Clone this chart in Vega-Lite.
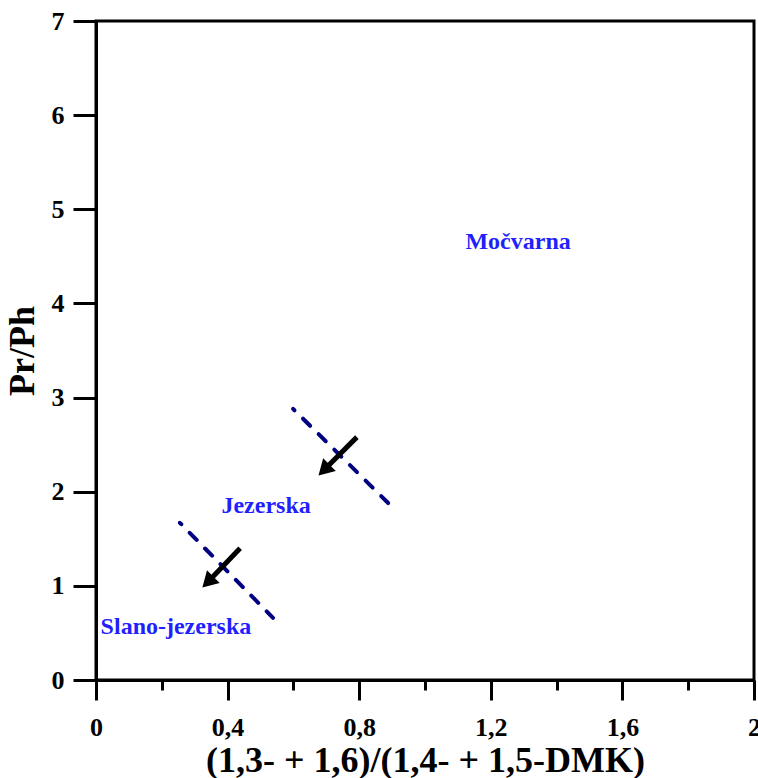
{
  "$schema": "https://vega.github.io/schema/vega-lite/v6.json",
  "width": 658,
  "height": 659,
  "autosize": {"type": "none"},
  "padding": {"left": 96, "top": 21, "right": 4, "bottom": 98},
  "background": "white",
  "config": {
    "view": {"stroke": "black", "strokeWidth": 3},
    "axis": {
      "domainColor": "black", "domainWidth": 3,
      "tickColor": "black", "tickWidth": 3,
      "labelFont": "Liberation Serif", "labelFontWeight": "bold", "labelFontSize": 26, "labelColor": "black",
      "titleFont": "Liberation Serif", "titleFontWeight": "bold", "titleFontSize": 36, "titleColor": "black",
      "grid": false
    }
  },
  "datasets": {
    "lines": [
      {"line": "a", "x": 0.255, "y": 1.67},
      {"line": "a", "x": 0.538, "y": 0.66},
      {"line": "b", "x": 0.599, "y": 2.88},
      {"line": "b", "x": 0.888, "y": 1.88}
    ],
    "shafts": [
      {"x": 0.793, "y": 2.58, "x2": 0.693, "y2": 2.23},
      {"x": 0.438, "y": 1.40, "x2": 0.340, "y2": 1.04}
    ],
    "heads": [
      {"x": 0.693, "y": 2.23},
      {"x": 0.340, "y": 1.04}
    ],
    "labels": [
      {"label": "Močvarna", "x": 1.283, "y": 4.65},
      {"label": "Jezerska", "x": 0.517, "y": 1.85},
      {"label": "Slano-jezerska", "x": 0.243, "y": 0.56}
    ]
  },
  "layer": [
    {
      "data": {"name": "lines"},
      "mark": {"type": "line", "color": "#000080", "strokeWidth": 4, "strokeDash": [10, 12], "strokeDashOffset": 8, "strokeCap": "round"},
      "encoding": {
        "x": {
          "field": "x", "type": "quantitative",
          "scale": {"domain": [0, 2], "nice": false, "zero": false},
          "axis": {
            "title": "(1,3- + 1,6)/(1,4- + 1,5-DMK)",
            "values": [0, 0.2, 0.4, 0.6, 0.8, 1.0, 1.2, 1.4, 1.6, 1.8, 2.0],
            "tickSize": {"condition": {"test": "round(datum.value * 10) % 4 == 0", "value": 20}, "value": 10},
            "labelExpr": "round(datum.value * 10) % 4 == 0 ? replace(format(datum.value, '.1~f'), '.', ',') : ''",
            "labelFontSize": 26,
            "labelPadding": 14,
            "labelFlush": false,
            "labelOverlap": false,
            "titlePadding": 3
          }
        },
        "y": {
          "field": "y", "type": "quantitative",
          "scale": {"domain": [0, 7], "nice": false},
          "axis": {
            "title": "Pr/Ph",
            "values": [0, 1, 2, 3, 4, 5, 6, 7],
            "format": "d",
            "labelFontSize": 26,
            "tickSize": 23,
            "labelPadding": 9,
            "labelFlush": false,
            "labelOverlap": false,
            "titlePadding": 10
          }
        },
        "detail": {"field": "line"}
      }
    },
    {
      "data": {"name": "shafts"},
      "mark": {"type": "rule", "color": "black", "strokeWidth": 5},
      "encoding": {
        "x": {"field": "x", "type": "quantitative"},
        "y": {"field": "y", "type": "quantitative"},
        "x2": {"field": "x2"},
        "y2": {"field": "y2"}
      }
    },
    {
      "data": {"name": "heads"},
      "mark": {"type": "point", "shape": "triangle-up", "filled": true, "color": "black", "opacity": 1, "size": 320, "angle": 225},
      "encoding": {
        "x": {"field": "x", "type": "quantitative"},
        "y": {"field": "y", "type": "quantitative"}
      }
    },
    {
      "data": {"name": "labels"},
      "mark": {"type": "text", "color": "#1f1fff", "font": "Liberation Serif", "fontWeight": "bold", "fontSize": 24},
      "encoding": {
        "x": {"field": "x", "type": "quantitative"},
        "y": {"field": "y", "type": "quantitative"},
        "text": {"field": "label"}
      }
    }
  ]
}
